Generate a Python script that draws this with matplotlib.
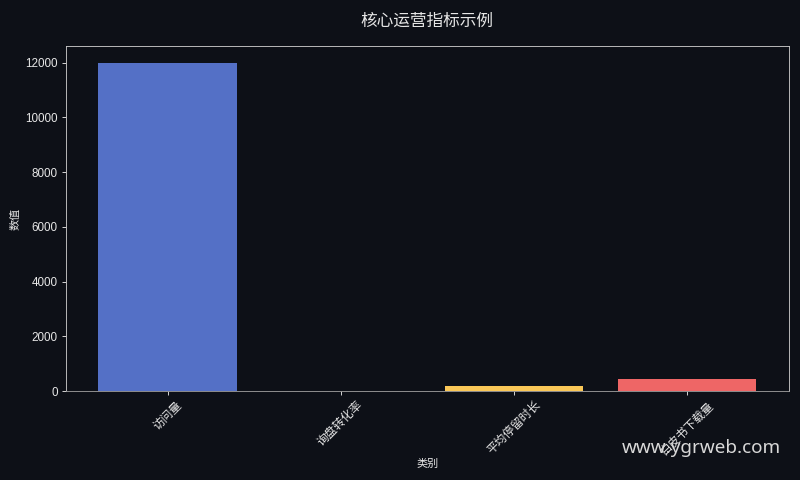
import matplotlib
matplotlib.use("Agg")
import matplotlib.pyplot as plt

# 数据
categories = ["访问量", "询盘转化率", "平均停留时长", "白皮书下载量"]
values = [12000, 3.2, 180, 450]
colors = ["#5470c6", "#91cc75", "#fac858", "#ee6666"]

bg = "#0d1017"
fg = "#e6e6e6"

plt.rcParams['font.family'] = ['Liberation Sans', 'Noto Sans CJK SC', 'DejaVu Sans']

fig, ax = plt.subplots(figsize=(10, 6), dpi=80)
fig.patch.set_facecolor(bg)
ax.set_facecolor(bg)

ax.bar(categories, values, color=colors, width=0.8)

ax.set_title("核心运营指标示例", color=fg, fontsize=15, pad=18,
             family=['Noto Sans CJK SC', 'DejaVu Sans'])
ax.set_xlabel("类别", color=fg, fontsize=10, labelpad=2)
ax.set_ylabel("数值", color=fg, fontsize=10, labelpad=4)

ax.tick_params(colors=fg, labelsize=10.5)
plt.setp(ax.get_xticklabels(), rotation=45)
for sp in ax.spines.values():
    sp.set_color("#c8c8c8")
ax.spines['bottom'].set_color("#9a9a9a")

# 水印
fig.text(0.976, 0.067, "www.ygrweb.com", color="#d8d8d8", fontsize=17,
         ha="right", va="center", family=['Noto Sans', 'DejaVu Sans'], zorder=10)

plt.subplots_adjust(left=0.082, right=0.986, top=0.904, bottom=0.185)
plt.savefig("out.png", dpi=80, facecolor=bg)
